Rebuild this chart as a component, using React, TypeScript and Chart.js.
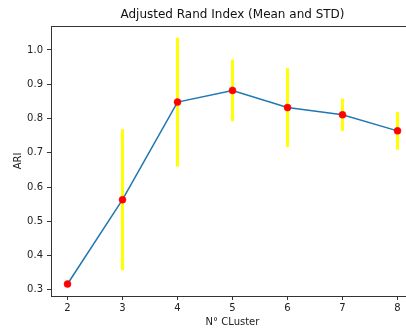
import React, { useEffect, useRef } from "react";
import { Chart, registerables } from "chart.js";

Chart.register(...registerables);

const clusters = [2, 3, 4, 5, 6, 7, 8];
const ariMean = [0.317, 0.563, 0.848, 0.882, 0.832, 0.811, 0.764];
const ariStd = [0.003, 0.206, 0.188, 0.09, 0.115, 0.047, 0.055];
const xTicks = [2, 3, 4, 5, 6, 7, 8];
const yTicks = [0.3, 0.4, 0.5, 0.6, 0.7, 0.8, 0.9, 1.0];
const titleText = "Adjusted Rand Index (Mean and STD)";
const xLabel = "N° CLuster";
const yLabel = "ARI";

const FONT = "'DejaVu Sans', sans-serif";
const AXIS = "#333333";

const decorPlugin = {
  id: "decor",
  beforeDatasetsDraw(chart: any) {
    const { ctx, scales } = chart;
    const xs = scales.x;
    const ys = scales.y;
    ctx.save();
    ctx.strokeStyle = "#ffff00";
    ctx.lineWidth = 3;
    ctx.lineCap = "butt";
    for (let i = 0; i < clusters.length; i++) {
      const px = xs.getPixelForValue(clusters[i]);
      const y1 = ys.getPixelForValue(ariMean[i] + ariStd[i]);
      const y2 = ys.getPixelForValue(ariMean[i] - ariStd[i]);
      ctx.beginPath();
      ctx.moveTo(px, y1);
      ctx.lineTo(px, y2);
      ctx.stroke();
    }
    ctx.restore();
  },
  afterDraw(chart: any) {
    const { ctx, chartArea } = chart;
    ctx.save();
    ctx.strokeStyle = AXIS;
    ctx.lineWidth = 1;
    ctx.beginPath();
    ctx.moveTo(chartArea.left, Math.round(chartArea.top) + 0.5);
    ctx.lineTo(chartArea.right, Math.round(chartArea.top) + 0.5);
    ctx.moveTo(Math.round(chartArea.right) + 0.5, chartArea.top);
    ctx.lineTo(Math.round(chartArea.right) + 0.5, chartArea.bottom);
    ctx.stroke();
    ctx.fillStyle = "#111";
    ctx.font = `12px ${FONT}`;
    ctx.textAlign = "center";
    ctx.textBaseline = "middle";
    ctx.fillText(titleText, (chartArea.left + chartArea.right) / 2, 15);
    ctx.restore();
  },
};

export default function App() {
  const ref = useRef<HTMLCanvasElement | null>(null);
  useEffect(() => {
    if (!ref.current) return;
    const chart = new Chart(ref.current, {
      type: "line",
      data: {
        datasets: [
          {
            data: clusters.map((c, i) => ({ x: c, y: ariMean[i] })),
            borderColor: "#1f77b4",
            borderWidth: 1.5,
            tension: 0,
            pointRadius: 3.5,
            pointBackgroundColor: "#ff0000",
            pointBorderColor: "#ff0000",
            pointBorderWidth: 0.5,
          },
        ],
      },
      options: {
        responsive: false,
        animation: false,
        layout: { padding: { left: 0, right: 16, top: 26, bottom: 0 } },
        plugins: { legend: { display: false }, tooltip: { enabled: false }, title: { display: false } },
        scales: {
          x: {
            type: "linear",
            min: 1.7,
            max: 8.3,
            afterBuildTicks: (s: any) => {
              s.ticks = xTicks.map((v) => ({ value: v }));
            },
            afterFit: (s: any) => {
              s.height = 33;
            },
            grid: { drawOnChartArea: false, drawTicks: true, tickLength: 4, color: AXIS },
            border: { display: true, color: AXIS, width: 1 },
            ticks: {
              color: "#222",
              font: { family: FONT, size: 10 },
              padding: 2,
              autoSkip: false,
              maxRotation: 0,
              callback: (v: any) => String(v),
            },
            title: {
              display: true,
              text: xLabel,
              color: "#222",
              font: { family: FONT, size: 10 },
              padding: { top: 0, bottom: 1 },
            },
          },
          y: {
            type: "linear",
            min: 0.282,
            max: 1.07,
            afterBuildTicks: (s: any) => {
              s.ticks = yTicks.map((v) => ({ value: v }));
            },
            afterFit: (s: any) => {
              s.width = 51;
            },
            grid: { drawOnChartArea: false, drawTicks: true, tickLength: 4, color: AXIS },
            border: { display: true, color: AXIS, width: 1 },
            ticks: {
              color: "#222",
              font: { family: FONT, size: 10 },
              padding: 4,
              autoSkip: false,
              callback: (v: any) => Number(v).toFixed(1),
            },
            title: {
              display: true,
              text: yLabel,
              color: "#222",
              font: { family: FONT, size: 10 },
              padding: { top: 12.5, bottom: 0 },
            },
          },
        },
      },
      plugins: [decorPlugin],
    } as any);
    return () => chart.destroy();
  }, []);
  return (
    <div style={{ position: "fixed", left: 0, top: 0, width: 406, height: 329, overflow: "hidden", background: "#fff" }}>
      <canvas ref={ref} width={430} height={329} style={{ display: "block", width: 430, height: 329 }} />
    </div>
  );
}
